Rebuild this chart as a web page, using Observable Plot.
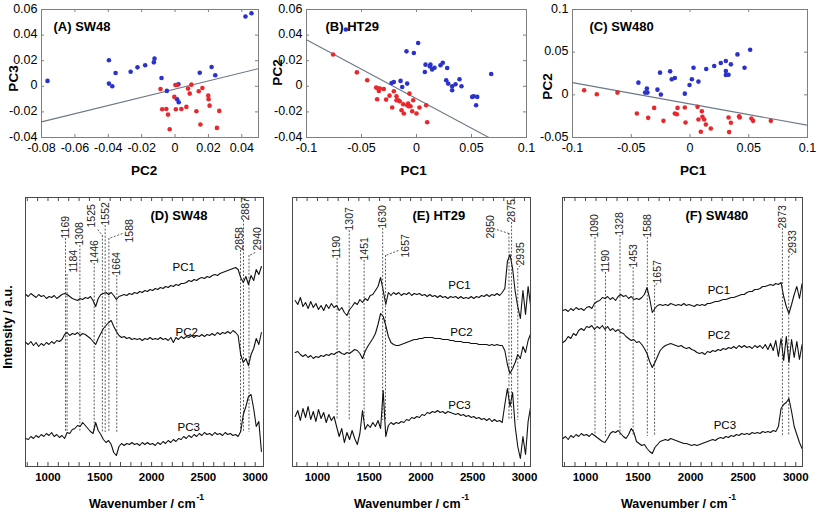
<!DOCTYPE html>
<html><head><meta charset="utf-8">
<script src="https://cdn.jsdelivr.net/npm/d3@7"></script>
<script src="https://cdn.jsdelivr.net/npm/@observablehq/plot@0.6"></script>
<style>
html,body{margin:0;padding:0;background:#fff;}
#fig{position:relative;width:817px;height:516px;overflow:hidden;background:#fff;}
#fig > div{position:absolute;}
#fig svg{max-width:none !important;overflow:visible;}
</style></head>
<body><div id="fig"></div>
<script>
// ---------------- DATA ----------------
// PCA score plots: [x, y]
const sw48Blue = [[-0.0764,0.0042],[-0.0396,0.0203],[-0.0396,0.0021],[-0.0376,0.0],[-0.0356,0.0104],[-0.0266,0.0114],[-0.0225,0.0148],[-0.0179,0.0164],[-0.0127,0.0187],[-0.0123,0.0216],[-0.0081,0.0065],[-0.0049,-0.0036],[0.0012,-0.0101],[0.0020,0.0016],[0.0022,-0.0125],[0.0148,0.0106],[0.0219,0.0151],[0.0241,0.0086],[0.0422,0.0545],[0.0458,0.0571]];
const sw48Red = [[-0.0087,-0.0021],[-0.0077,-0.0179],[-0.0052,-0.0177],[-0.0042,-0.0221],[-0.0032,-0.0335],[-0.0004,-0.0083],[0.0002,0.0010],[0.0012,0.0010],[0.0005,-0.0179],[0.0038,-0.0177],[0.0068,-0.0161],[0.0078,-0.0018],[0.0088,-0.0057],[0.0098,0.0013],[0.0128,-0.0195],[0.0142,-0.0039],[0.0152,-0.0299],[0.0164,-0.0013],[0.0199,-0.0073],[0.0201,-0.0101],[0.0207,-0.0151],[0.0251,-0.0325],[0.0265,-0.0192]];
const sw48Boundary = [[-0.08,-0.0278],[0.05,0.0138]];

const ht29Blue = [[-0.0642,0.0444],[0.0015,0.0338],[-0.0091,0.0273],[-0.0024,0.0260],[0.0082,0.0169],[0.0076,0.0112],[0.0127,0.0169],[0.0121,0.0156],[0.0142,0.0132],[0.0164,0.0145],[0.0218,0.0164],[0.0239,0.0184],[0.0279,0.0143],[0.0270,0.0047],[0.0288,0.0021],[0.0324,0.0],[0.0355,0.0016],[0.0391,0.0055],[0.0409,0.0],[0.0324,-0.0031],[0.0506,-0.0083],[0.0521,-0.0078],[0.0552,-0.0083],[0.0542,-0.0148],[0.0679,0.0096],[-0.0227,0.0026],[-0.0206,0.0034],[-0.0145,0.0042],[-0.0085,0.0021],[-0.0130,-0.0005]];
const ht29Red = [[-0.0758,0.0249],[-0.0542,0.0109],[-0.0448,0.0047],[-0.0367,-0.0010],[-0.0348,-0.0018],[-0.0342,-0.0036],[-0.0333,-0.0018],[-0.0358,-0.0101],[-0.0297,-0.0021],[-0.0276,-0.0104],[-0.0245,-0.0073],[-0.0221,-0.0166],[-0.0206,-0.0039],[-0.0182,-0.0078],[-0.0182,-0.0109],[-0.0167,-0.0109],[-0.0152,-0.0117],[-0.0136,-0.0187],[-0.0121,-0.0140],[-0.0115,-0.0213],[-0.0085,-0.0148],[-0.0076,-0.0135],[-0.0070,-0.0156],[-0.0064,-0.0057],[-0.0055,-0.0156],[-0.0039,-0.0195],[-0.0030,-0.0109],[0.0,-0.0213],[0.0027,-0.0166],[0.0088,-0.0148],[0.0097,-0.0281]];
const ht29Boundary = [[-0.1,0.0364],[0.0658,-0.04]];

const sw480Blue = [[-0.0439,0.0143],[-0.0367,0.0073],[-0.0382,0.0026],[-0.0362,0.0026],[-0.0277,0.0061],[-0.0255,0.0260],[-0.0248,0.0003],[-0.0169,0.0275],[-0.0155,0.0182],[-0.0129,0.0198],[-0.0044,0.0014],[-0.0004,0.0116],[0.0016,0.0182],[0.0030,0.0318],[0.0072,0.0155],[0.0138,0.0303],[0.0206,0.0338],[0.0262,0.0373],[0.0305,0.0396],[0.0305,0.0279],[0.0305,0.0232],[0.0328,0.0236],[0.0348,0.0357],[0.0404,0.0474],[0.0464,0.0318],[0.0512,0.0529]];
const sw480Red = [[-0.0901,0.0053],[-0.0793,0.0007],[-0.0617,0.0026],[-0.0452,-0.0219],[-0.0356,-0.0270],[-0.0305,-0.0153],[-0.0226,-0.0305],[-0.0129,-0.0219],[-0.0112,-0.0227],[-0.0106,-0.0153],[-0.0044,-0.0149],[-0.0038,-0.0324],[0.0064,-0.0141],[0.0072,-0.0289],[0.0092,-0.0433],[0.0101,-0.0192],[0.0106,-0.0258],[0.0121,-0.0289],[0.0135,-0.0348],[0.0177,-0.0395],[0.0328,-0.0266],[0.0333,-0.0437],[0.0348,-0.0328],[0.0418,-0.0251],[0.0423,-0.0266],[0.0523,-0.0278],[0.0537,-0.0305],[0.0688,-0.0305]];
const sw480Boundary = [[-0.1,0.0143],[0.1,-0.0356]];

const ticksAX = [-0.08,-0.06,-0.04,-0.02,0,0.02,0.04];
const ticksAY = [-0.04,-0.02,0,0.02,0.04,0.06];
const ticksBX = [-0.1,-0.05,0,0.05,0.1];
const ticksBY = [-0.04,-0.02,0,0.02,0.04,0.06];
const ticksCX = [-0.1,-0.05,0,0.05,0.1];
const ticksCY = [-0.05,0,0.05,0.1];

// Loading spectra (intensity, arbitrary units, offset per PC)
const wavenumbers = [785,810,835,860,885,910,935,960,985,1010,
1035,1060,1085,1110,1135,1160,1185,1210,1235,1260,
1285,1310,1335,1360,1385,1410,1435,1460,1485,1510,
1535,1560,1585,1610,1635,1660,1685,1710,1735,1760,
1785,1810,1835,1860,1885,1910,1935,1960,1985,2010,
2035,2060,2085,2110,2135,2160,2185,2210,2235,2260,
2285,2310,2335,2360,2385,2410,2435,2460,2485,2510,
2535,2560,2585,2610,2635,2660,2685,2710,2735,2760,
2785,2810,2835,2860,2885,2910,2935,2960,2985,3010,
3035,3060];

const sw48PC1 = [172,170,173,171,169,172,170,171,168,170,
169,171,168,170,172,173,172,170,168,167,
166,168,167,169,168,170,166,160,168,172,
173,174,172,174,171,167,170,171,172,171,
173,172,174,173,175,174,176,175,177,176,
178,177,179,178,180,179,181,180,182,181,
183,183,184,186,185,187,186,188,189,188,
190,189,191,192,191,193,194,195,196,197,
198,199,197,189,184,190,182,191,186,197,
192,200];
const sw48PC2 = [124,122,125,121,124,120,123,121,124,122,
125,123,126,125,127,132,134,131,133,132,
134,131,133,132,130,128,125,122,128,133,
138,141,144,146,140,135,131,129,130,128,
129,127,128,127,128,126,128,127,129,127,
128,127,129,127,128,126,129,124,129,127,
130,128,130,129,131,129,131,130,132,130,
132,131,133,131,134,132,134,133,135,133,
136,134,131,112,104,108,101,112,118,128,
122,134];
const sw48PC3 = [28,27,30,28,31,29,32,30,33,31,
34,30,32,29,31,28,34,33,37,38,
41,40,44,41,38,35,33,44,36,32,
27,24,26,22,14,11,20,23,21,23,
22,24,22,23,21,24,22,24,22,23,
21,24,22,25,23,26,24,27,25,28,
27,30,28,31,29,32,30,33,31,34,
32,33,31,34,32,33,31,34,32,33,
31,32,30,35,52,60,70,72,58,40,
45,15];

const ht29PC1 = [166,162,169,160,164,158,165,159,163,157,
161,156,162,158,163,159,161,156,159,154,
151,157,160,164,162,167,164,168,166,171,
172,176,180,189,176,162,174,171,174,172,
174,171,173,172,174,171,173,172,173,171,
172,170,172,170,171,169,171,169,170,168,
170,169,170,168,170,168,169,168,170,168,
170,169,171,170,172,170,172,171,173,171,
174,178,205,212,198,175,160,148,176,152,
180,160];
const ht29PC2 = [114,115,112,110,112,109,111,108,110,109,
111,110,112,111,113,112,114,115,113,112,
114,113,115,117,116,113,108,115,120,124,
128,133,142,153,150,141,130,124,122,121,
121,122,123,124,125,126,127,127,128,128,
129,129,129,129,128,128,128,127,127,127,
126,126,125,125,125,124,124,124,123,123,
123,122,122,122,122,121,122,121,122,121,
121,116,102,93,98,104,112,108,120,114,
126,133];
const ht29PC3 = [50,56,46,58,49,60,47,55,45,57,
48,54,44,52,46,50,40,30,38,24,
34,27,36,28,22,33,56,37,42,39,
44,40,46,38,76,30,41,44,42,44,
43,45,44,47,46,49,48,50,49,52,
51,54,53,55,54,56,54,55,53,55,
54,53,52,53,51,52,50,51,49,50,
48,49,47,48,46,48,45,47,45,46,
44,62,78,60,74,40,20,8,30,12,
45,60];

const sw480PC1 = [156,157,155,158,156,159,157,158,156,159,
160,158,163,165,166,169,168,170,167,169,
166,170,172,170,171,168,170,167,168,167,
169,172,179,168,154,158,161,162,161,162,
161,163,162,161,162,161,163,161,162,161,
160,162,161,162,161,163,163,164,165,165,
166,167,167,168,169,169,170,171,172,172,
174,175,175,177,177,178,180,180,181,182,
181,183,182,184,170,160,153,162,172,180,
168,183];
const sw480PC2 = [124,126,130,128,133,131,136,138,136,140,
139,141,137,140,138,141,137,140,136,138,
135,137,134,133,130,128,126,127,124,125,
122,118,113,105,99,104,110,116,119,121,
122,123,122,121,120,121,119,118,119,117,
116,114,113,114,112,115,114,116,115,117,
116,118,117,119,118,120,118,121,119,121,
119,120,118,121,119,121,118,122,117,123,
116,126,110,128,106,130,104,127,109,125,
107,122];
const sw480PC3 = [28,30,27,31,29,32,30,33,31,32,
30,33,31,29,27,25,24,28,33,35,
34,36,33,30,28,32,38,34,25,23,
21,22,18,15,13,19,22,25,26,27,
26,28,27,26,25,24,23,23,22,21,
22,21,22,23,24,25,26,27,26,28,
29,28,30,29,31,30,32,31,33,32,
33,32,34,33,34,33,35,34,35,34,
36,35,40,58,62,64,68,55,40,32,
24,18];

const sw48Peaks = [1169,1184,1308,1446,1525,1552,1588,1664,2858,2887,2940];
const ht29Peaks = [1190,1307,1451,1630,1657,2850,2875,2935];
const sw480Peaks = [1090,1190,1328,1453,1588,1657,2873,2933];

const minorTicks = [800,900,1000,1100,1200,1300,1400,1500,1600,1700,1800,1900,2000,2100,2200,2300,2400,2500,2600,2700,2800,2900,3000];
const majorTicks = [1000,1500,2000,2500,3000];

// ---------------- LAYOUT (label placement) ----------------
const layoutD = {1169:{ly:228},1184:{lx:1245,ly:194,top:192},1308:{ly:221},1446:{ly:203},
  1525:{lx:1420,ly:239,top:231,lead:[1480,237]},1552:{ly:241},1588:{lx:1787,ly:224,top:228,lead:[1719,233]},
  1664:{ly:191},2858:{lx:2850,ly:216},2887:{lx:2905,ly:246},2940:{lx:3022,ly:216,top:211,lead:[3000,214]}};
const layoutE = {1190:{ly:208},1307:{ly:236},1451:{ly:206},1630:{ly:238},
  1657:{lx:1850,ly:209,top:211,lead:[1782,216]},2850:{lx:2669,ly:228,top:233,lead:[2701,238]},
  2875:{ly:244},2935:{lx:2959,ly:201,top:198,lead:[2959,201]}};
const layoutF = {1090:{ly:229},1190:{ly:194},1328:{ly:231},1453:{ly:199},1588:{ly:229},
  1657:{lx:1683,ly:183,top:181,lead:[1683,183]},2873:{ly:238},2933:{lx:2971,ly:213,top:210,lead:[2971,213]}};

// ---------------- DRAWING ----------------
const FONT = "'Liberation Sans', Arial, Helvetica, sans-serif";
const fig = document.getElementById("fig");
function place(node, left, top) {
  const d = document.createElement("div");
  d.style.left = left + "px"; d.style.top = top + "px";
  d.appendChild(node); fig.appendChild(d);
}
const fmt = d => String(d);

function scatter(c) {
  const iw = c.width - c.ml - c.mr, ih = c.height - c.mt - c.mb;
  const fc = "#7f7f7f";
  return Plot.plot({
    width: c.width, height: c.height,
    marginLeft: c.ml, marginRight: c.mr, marginTop: c.mt, marginBottom: c.mb,
    style: {fontFamily: FONT, fontSize: "12px", background: "transparent", overflow: "visible", color: "#000"},
    x: {domain: c.xDomain},
    y: {domain: c.yDomain},
    marks: [
      Plot.frame({stroke: fc}),
      Plot.tickX(c.xTicks, {x: d => d, insetTop: ih - 3, stroke: fc}),
      Plot.tickX(c.xTicks, {x: d => d, insetBottom: ih - 3, stroke: fc}),
      Plot.tickY(c.yTicks, {y: d => d, insetRight: iw - 3, stroke: fc}),
      Plot.tickY(c.yTicks, {y: d => d, insetLeft: iw - 3, stroke: fc}),
      Plot.line(c.boundary, {x: d => d[0], y: d => d[1], stroke: "#6b7888", strokeWidth: 1.1, clip: true}),
      Plot.dot(c.blue, {x: d => d[0], y: d => d[1], r: 2.3, fill: "#2b32cc"}),
      Plot.dot(c.red, {x: d => d[0], y: d => d[1], r: 2.3, fill: "#e8282c"}),
      Plot.axisX(c.xTicks, {tickSize: 0, tickPadding: 6, tickFormat: fmt, label: null, fontSize: 12.5}),
      Plot.axisY(c.yTicks, {tickSize: 0, tickPadding: 4, tickFormat: fmt, label: null, fontSize: 12.5, dy: -1}),
      Plot.text([c.title], {text: d => d, frameAnchor: "top-left", textAnchor: "start", lineAnchor: "bottom",
        dx: c.titleDx, dy: 21, fontWeight: "bold", fontSize: 13}),
      Plot.text([c.xLabel], {text: d => d, frameAnchor: "bottom", lineAnchor: "middle",
        dx: c.xlDx, dy: 33, fontWeight: "bold", fontSize: 13.5}),
      Plot.text([c.yLabel], {text: d => d, frameAnchor: "left", rotate: -90, lineAnchor: "middle", textAnchor: "middle",
        dx: c.ylDx, dy: c.ylDy, fontWeight: "bold", fontSize: 13.5})
    ]
  });
}

function spectrum(c) {
  const iw = c.width - c.ml - c.mr, ih = c.height - c.mt - c.mb;
  const fc = "#4a4a4a";
  const rows = c.peaks.map(wn => {
    const L = c.layout[wn];
    return {wn, lx: L.lx ?? wn, ly: L.ly, top: L.top ?? L.ly, lead: L.lead, bottom: c.bottom};
  });
  const leaders = rows.filter(r => r.lead);
  const traceMarks = c.traces.map(t => Plot.line(t.map((v, i) => [wavenumbers[i], v]),
    {x: d => d[0], y: d => d[1], stroke: "#111", strokeWidth: 1.1, clip: true}));
  const marks = [
    Plot.frame({stroke: fc}),
    Plot.tickX(minorTicks, {x: d => d, insetTop: ih - 4, stroke: fc}),
    Plot.tickX(minorTicks, {x: d => d, insetBottom: ih - 4, stroke: fc}),
    Plot.ruleX(rows, {x: "wn", y1: "top", y2: "bottom", stroke: "#333", strokeWidth: 0.8, strokeDasharray: "2,1.6"}),
    Plot.link(leaders, {x1: d => d.lead[0], y1: d => d.lead[1], x2: "wn", y2: "top", stroke: "#333", strokeWidth: 0.8, strokeDasharray: "2,1.6"}),
    Plot.text(rows, {x: "lx", y: "ly", text: d => String(d.wn), rotate: -90, textAnchor: "start", lineAnchor: "middle", fontSize: 10.5, fill: "#222"}),
    ...traceMarks,
    Plot.text(c.pcLabels, {x: d => d[1], y: d => d[2], text: d => d[0], textAnchor: "start", lineAnchor: "bottom", fontSize: 11.5}),
    Plot.axisX(majorTicks, {tickSize: 0, tickPadding: 6, tickFormat: fmt, label: null, fontWeight: "bold", fontSize: 11.5}),
    Plot.text([c.title], {text: d => d, frameAnchor: "top-left", textAnchor: "start", lineAnchor: "bottom",
      dx: c.titleDx, dy: 22, fontWeight: "bold", fontSize: 13}),
    Plot.text(["Wavenumber / cm"], {text: d => d, frameAnchor: "bottom", textAnchor: "end", lineAnchor: "bottom",
      dx: c.wlDx, dy: 41, fontWeight: "bold", fontSize: 12.5}),
    Plot.text(["-1"], {text: d => d, frameAnchor: "bottom", textAnchor: "start", lineAnchor: "bottom",
      dx: c.wlDx + 1, dy: 33, fontWeight: "bold", fontSize: 8.5})
  ];
  if (c.yLabel) marks.push(Plot.text([c.yLabel], {text: d => d, frameAnchor: "left", rotate: -90, lineAnchor: "middle", textAnchor: "middle",
    dx: -18, dy: -5, fontWeight: "bold", fontSize: 12.5}));
  return Plot.plot({
    width: c.width, height: c.height,
    marginLeft: c.ml, marginRight: c.mr, marginTop: c.mt, marginBottom: c.mb,
    style: {fontFamily: FONT, fontSize: "12px", background: "transparent", overflow: "visible", color: "#000"},
    x: {domain: c.xDomain},
    y: {domain: [0, ih], axis: null},
    marks
  });
}

place(scatter({width: 272, height: 180, ml: 41, mr: 14, mt: 9, mb: 43,
  xDomain: [-0.08, 0.05], yDomain: [-0.04, 0.06], xTicks: ticksAX, yTicks: ticksAY,
  blue: sw48Blue, red: sw48Red, boundary: sw48Boundary,
  title: "(A) SW48", titleDx: 12, xLabel: "PC2", xlDx: -6, yLabel: "PC3", ylDx: -28, ylDy: 5}), 0, 0);
place(scatter({width: 268, height: 180, ml: 34, mr: 14, mt: 9, mb: 43,
  xDomain: [-0.1, 0.1], yDomain: [-0.04, 0.06], xTicks: ticksBX, yTicks: ticksBY,
  blue: ht29Blue, red: ht29Red, boundary: ht29Boundary,
  title: "(B) HT29", titleDx: 19, xLabel: "PC1", xlDx: -3, yLabel: "PC2", ylDx: -29, ylDy: -1}), 272, 0);
place(scatter({width: 277, height: 180, ml: 32, mr: 10, mt: 9, mb: 43,
  xDomain: [-0.1, 0.1], yDomain: [-0.05, 0.1], xTicks: ticksCX, yTicks: ticksCY,
  blue: sw480Blue, red: sw480Red, boundary: sw480Boundary,
  title: "(C) SW480", titleDx: 17, xLabel: "PC1", xlDx: 3, yLabel: "PC2", ylDx: -25, ylDy: 13}), 540, 0);

place(spectrum({width: 272, height: 326, ml: 25, mr: 9, mt: 7, mb: 50, xDomain: [783, 3080],
  traces: [sw48PC1, sw48PC2, sw48PC3], peaks: sw48Peaks, layout: layoutD, bottom: 34,
  pcLabels: [["PC1", 2202, 196], ["PC2", 2231, 131], ["PC3", 2250, 36]],
  title: "(D) SW48", titleDx: 125, wlDx: 51, yLabel: "Intensity / a.u."}), 0, 190);
place(spectrum({width: 268, height: 326, ml: 20, mr: 10, mt: 7, mb: 50, xDomain: [759, 3058],
  traces: [ht29PC1, ht29PC2, ht29PC3], peaks: ht29Peaks, layout: layoutE, bottom: 46,
  pcLabels: [["PC1", 2264, 178], ["PC2", 2284, 131], ["PC3", 2264, 58]],
  title: "(E) HT29", titleDx: 120, wlDx: 49}), 272, 190);
place(spectrum({width: 277, height: 326, ml: 22, mr: 15, mt: 7, mb: 50, xDomain: [781, 3064],
  traces: [sw480PC1, sw480PC2, sw480PC3], peaks: sw480Peaks, layout: layoutF, bottom: 30,
  pcLabels: [["PC1", 2162, 173], ["PC2", 2162, 128], ["PC3", 2219, 38]],
  title: "(F) SW480", titleDx: 123, wlDx: 45}), 540, 190);
</script>
</body></html>
